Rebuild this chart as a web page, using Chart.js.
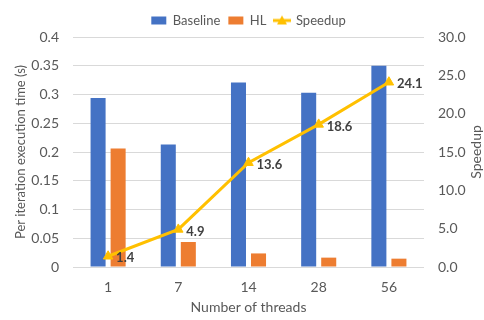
<!DOCTYPE html>
<html>
<head>
<meta charset="utf-8">
<script src="https://cdn.jsdelivr.net/npm/chart.js@4/dist/chart.umd.min.js"></script>
<style>
  html, body { margin: 0; padding: 0; background: #ffffff; }
  #wrap { width: 484px; height: 320px; position: relative; }
</style>
</head>
<body>
<div id="wrap"><canvas id="c"></canvas></div>
<script>
// Thread counts on the x axis
const threads = ['1', '7', '14', '28', '56'];
// Per-iteration execution time in seconds
const baseline = [0.294, 0.213, 0.321, 0.303, 0.350];
const hl = [0.206, 0.0435, 0.0236, 0.0163, 0.0145];
// Speedup of HL over the baseline
const speedup = [1.4, 4.9, 13.6, 18.6, 24.1];
// Axis tick labels
const timeTicks = ['0', '0.05', '0.1', '0.15', '0.2', '0.25', '0.3', '0.35', '0.4'];
const speedupTicks = ['0.0', '5.0', '10.0', '15.0', '20.0', '25.0', '30.0'];

const FONT = 'Lato, "Open Sans", sans-serif';
const TEXT = '#595959';
const GRID = '#D9D9D9';
const BLUE = '#4472C4';
const ORANGE = '#ED7D31';
const GOLD = '#FFC000';

// Legend swatch for the line series: a short line with a triangle marker
function lineSwatch() {
  const cv = document.createElement('canvas');
  cv.width = 18; cv.height = 12;
  const g = cv.getContext('2d');
  g.strokeStyle = GOLD; g.lineWidth = 3;
  g.beginPath(); g.moveTo(0, 6); g.lineTo(18, 6); g.stroke();
  g.fillStyle = GOLD;
  g.beginPath(); g.moveTo(9, 1); g.lineTo(14, 10); g.lineTo(4, 10); g.closePath(); g.fill();
  return cv;
}

// Value labels to the right of each speedup point, and the right axis title
const extras = {
  id: 'extras',
  afterDatasetsDraw(chart) {
    const ctx = chart.ctx;
    const meta = chart.getDatasetMeta(2);
    ctx.save();
    ctx.font = 'bold 13px ' + FONT;
    ctx.fillStyle = '#404040';
    ctx.textAlign = 'left';
    ctx.textBaseline = 'middle';
    meta.data.forEach((pt, i) => {
      ctx.fillText(speedup[i].toFixed(1), pt.x + 8, pt.y + 2);
    });
    ctx.restore();
  },
  afterDraw(chart) {
    const ctx = chart.ctx;
    const a = chart.chartArea;
    ctx.save();
    ctx.translate(476, (a.top + a.bottom) / 2);
    ctx.rotate(-Math.PI / 2);
    ctx.font = '14px ' + FONT;
    ctx.fillStyle = TEXT;
    ctx.textAlign = 'center';
    ctx.textBaseline = 'middle';
    ctx.fillText('Speedup', 0, 0);
    ctx.restore();
  }
};

new Chart(document.getElementById('c'), {
  type: 'bar',
  data: {
    labels: threads,
    datasets: [
      { label: 'Baseline', data: baseline, backgroundColor: BLUE, yAxisID: 'y',
        categoryPercentage: 0.571, barPercentage: 0.75, pointStyle: 'rect' },
      { label: 'HL', data: hl, backgroundColor: ORANGE, yAxisID: 'y',
        categoryPercentage: 0.571, barPercentage: 0.75, pointStyle: 'rect' },
      { type: 'line', label: 'Speedup', data: speedup, yAxisID: 'y1', order: -1,
        borderColor: GOLD, backgroundColor: GOLD, borderWidth: 3, tension: 0,
        pointStyle: 'triangle', pointRadius: 5.5, pointBackgroundColor: GOLD,
        pointBorderColor: GOLD, pointBorderWidth: 1 }
    ]
  },
  options: {
    responsive: true,
    maintainAspectRatio: false,
    animation: false,
    layout: { padding: { top: -4, left: 0, right: 0, bottom: 0 } },
    plugins: {
      tooltip: { enabled: false },
      legend: {
        position: 'top',
        fullSize: false,
        labels: {
          usePointStyle: true,
          pointStyleWidth: 15,
          boxHeight: 8,
          padding: 8,
          color: TEXT,
          font: { family: FONT, size: 13 },
          sort: (a, b) => a.datasetIndex - b.datasetIndex,
          generateLabels(chart) {
            const items = Chart.defaults.plugins.legend.labels.generateLabels(chart);
            items.forEach(it => {
              if (it.datasetIndex === 2) { it.pointStyle = lineSwatch(); }
              it.lineWidth = 0;
              it.strokeStyle = 'rgba(0,0,0,0)';
            });
            return items;
          }
        }
      }
    },
    scales: {
      x: {
        grid: { display: false, drawTicks: false },
        border: { display: false },
        ticks: { color: TEXT, font: { family: FONT, size: 14 }, padding: 12 },
        title: { display: true, text: 'Number of threads', color: TEXT,
                 font: { family: FONT, size: 14 }, padding: { top: 0, bottom: 4 } },
        afterFit(s) { s.height = 53; }
      },
      y: {
        position: 'left',
        min: 0, max: 0.4,
        grid: { color: GRID, lineWidth: 1, drawTicks: false },
        border: { display: false },
        ticks: {
          stepSize: 0.05, color: TEXT, padding: 14,
          font: { family: FONT, size: 14 },
          callback: (v, i) => timeTicks[i]
        },
        title: { display: true, text: 'Per iteration execution time (s)', color: TEXT,
                 font: { family: FONT, size: 13 }, padding: { top: 13, bottom: 0 } },
        afterFit(s) { s.width = 73; s.paddingTop = 37; }
      },
      y1: {
        position: 'right',
        min: 0, max: 30,
        grid: { drawOnChartArea: false, drawTicks: false },
        border: { display: false },
        ticks: {
          stepSize: 5, color: TEXT, padding: 14,
          font: { family: FONT, size: 14 },
          callback: (v, i) => speedupTicks[i]
        },
        afterFit(s) { s.width = 60; }
      }
    }
  },
  plugins: [extras]
});
</script>
</body>
</html>
